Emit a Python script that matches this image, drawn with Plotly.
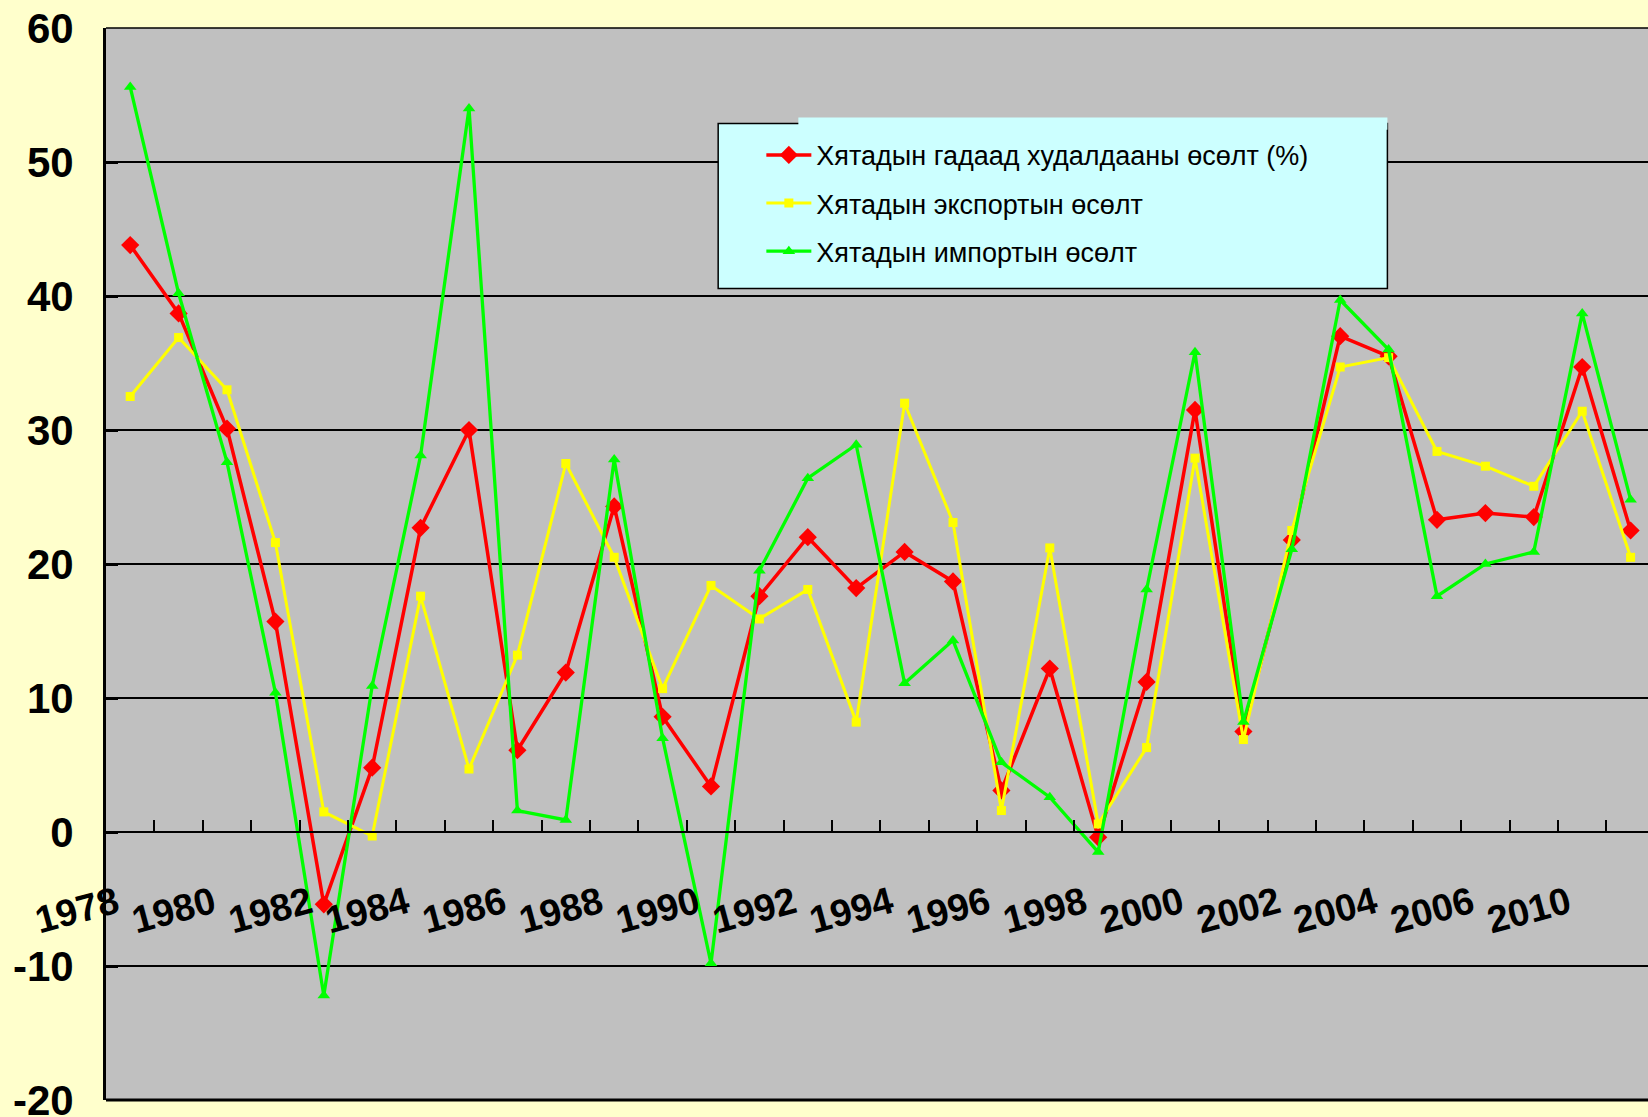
import plotly.graph_objects as go

# ---- data ----
years = list(range(1978, 2010))
trade = [43.8, 38.7, 30.1, 15.7, -5.4, 4.8, 22.7, 30.0, 6.1, 11.9,
         24.3, 8.6, 3.4, 17.6, 22.0, 18.2, 20.9, 18.7, 3.1, 12.2,
         -0.4, 11.2, 31.5, 7.5, 21.8, 37.0, 35.5, 23.3, 23.8, 23.5,
         34.7, 22.5]
exports = [32.5, 36.9, 33.0, 21.6, 1.5, -0.3, 17.6, 4.7, 13.2, 27.5,
           20.5, 10.7, 18.4, 15.9, 18.1, 8.2, 32.0, 23.1, 1.6, 21.2,
           0.6, 6.3, 27.9, 6.9, 22.5, 34.7, 35.4, 28.4, 27.3, 25.8,
           31.4, 20.5]
imports = [55.6, 40.2, 27.6, 10.4, -12.2, 10.9, 28.1, 54.0, 1.6, 0.9,
           27.8, 7.0, -9.8, 19.5, 26.4, 28.9, 11.1, 14.3, 5.2, 2.6,
           -1.5, 18.1, 35.8, 8.2, 21.1, 39.7, 36.0, 17.6, 20.0, 20.9,
           38.7, 24.8]
tick_labels = ["1978", "1980", "1982", "1984", "1986", "1988", "1990", "1992",
               "1994", "1996", "1998", "2000", "2002", "2004", "2006", "2010"]
y_ticks = [-20, -10, 0, 10, 20, 30, 40, 50, 60]
y_tick_labels = ["-20", "-10", "0", "10", "20", "30", "40", "50", "60"]
series_names = ["Хятадын гадаад худалдааны өсөлт (%)",
                "Хятадын экспортын өсөлт",
                "Хятадын импортын өсөлт"]

FONT = "Arial, Liberation Sans, sans-serif"

fig = go.Figure()
fig.add_trace(go.Scatter(
    x=years, y=trade, name=series_names[0], mode="lines+markers",
    line=dict(color="#FF0000", width=3.5),
    marker=dict(symbol="diamond", size=14, color="#FF0000"),
    legendgroup="g1"))
fig.add_trace(go.Scatter(
    x=years, y=exports, name=series_names[1], mode="lines+markers",
    line=dict(color="#FFFF00", width=3),
    marker=dict(symbol="square", size=9, color="#FFFF00"),
    legendgroup="g2"))
fig.add_trace(go.Scatter(
    x=years, y=imports, name=series_names[2], mode="lines+markers",
    line=dict(color="#00FF00", width=3.3),
    marker=dict(symbol="triangle-up", size=11, color="#00FF00"),
    legendgroup="g3"))

fig.update_layout(
    width=1648, height=1117, autosize=False,
    paper_bgcolor="#FFFFCC", plot_bgcolor="#C0C0C0",
    margin=dict(l=106, r=0, t=28, b=17, pad=0),
    font=dict(family=FONT, color="black"),
    xaxis=dict(
        range=[years[0] - 0.5, years[0] - 0.5 + 1542 / 48.4],
        anchor="free", position=0.25, automargin=False,
        showline=True, linecolor="black", linewidth=1.5,
        showgrid=False, zeroline=False,
        tickmode="array", tickvals=years[::2], ticktext=tick_labels,
        tickangle=-15, ticks="",
        tickfont=dict(family=FONT, size=38, color="black", weight="bold"),
        ticklabelstandoff=34, ticklabelshift=-14,
        minor=dict(tickvals=[y + 0.5 for y in years], ticks="inside",
                   ticklen=11, tickwidth=1.5, tickcolor="black", showgrid=False),
    ),
    yaxis=dict(
        range=[-20, 60], tickmode="array", tickvals=y_ticks, ticktext=y_tick_labels,
        automargin=False, ticklabeloverflow="allow",
        showgrid=True, gridcolor="black", gridwidth=2,
        zeroline=False,
        showline=True, linecolor="black", linewidth=3,
        ticks="inside", ticklen=12, tickwidth=3, tickcolor="black",
        tickfont=dict(family=FONT, size=42, color="black", weight="bold"),
        ticklabelstandoff=21,
    ),
    legend=dict(
        x=0.425, xanchor="left", y=0.904, yanchor="top",
        bgcolor="rgba(0,0,0,0)", borderwidth=0,
        font=dict(family=FONT, size=27, color="black"),
        tracegroupgap=10, itemwidth=45,
    ),
    showlegend=True,
    shapes=[
        # legend box
        dict(type="rect", xref="paper", yref="paper",
             x0=0.397, x1=0.831, y0=0.7569, y1=0.9108,
             fillcolor="#CCFFFF", line=dict(color="black", width=1.5),
             layer="above"),
        dict(type="rect", xref="paper", yref="paper",
             x0=0.449, x1=0.831, y0=0.9050, y1=0.9164,
             fillcolor="#CCFFFF", line=dict(width=0), layer="above"),
        # bottom frame line
        dict(type="line", xref="paper", yref="paper",
             x0=0, x1=1, y0=0, y1=0, line=dict(color="black", width=3)),
        # top frame line
        dict(type="line", xref="paper", yref="paper",
             x0=0, x1=1, y0=1, y1=1, line=dict(color="black", width=1.5)),
    ],
)

fig.write_html(
    "out.html",
    config={"displayModeBar": False},
    post_script="document.body.style.margin='0';"
                "document.body.style.padding='0';"
                "document.body.style.background='#FFFFCC';",
)
